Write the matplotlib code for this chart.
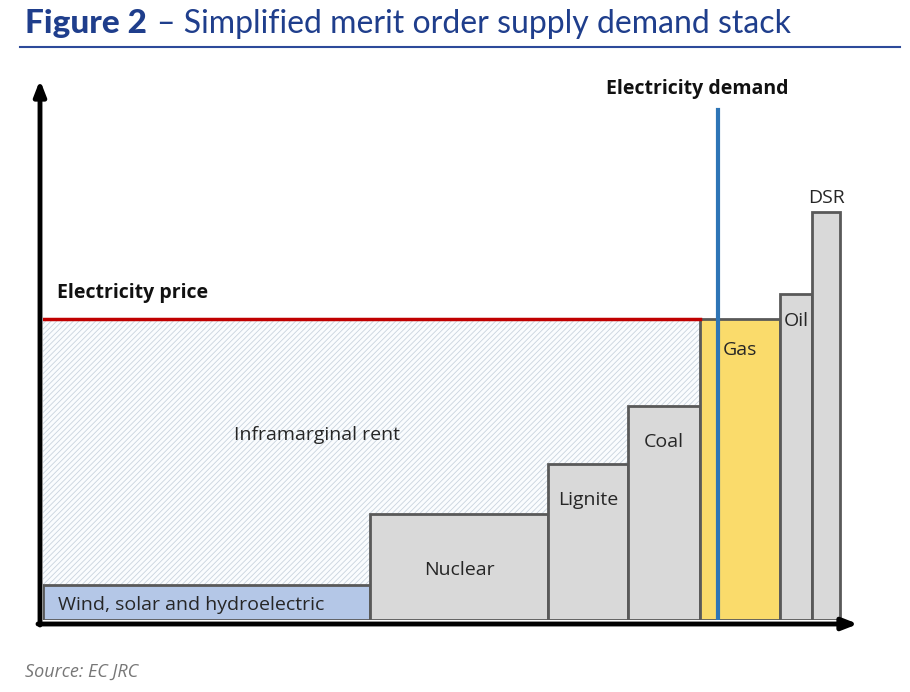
import numpy as np
import matplotlib.pyplot as plt
from matplotlib.patches import Rectangle

# merit order blocks (capacity width, marginal cost height) - schematic units
plants = ["Wind, solar and hydroelectric", "Nuclear", "Lignite", "Coal", "Gas", "Oil", "DSR"]
widths = [327, 178, 80, 72, 80, 32, 28]
heights = [35, 106, 156, 214, 301, 326, 408]
colors = ["#b4c7e7", "#d9d9d9", "#d9d9d9", "#d9d9d9", "#fadb6b", "#d9d9d9", "#d9d9d9"]
demand = 675
price = 301

plt.rcParams['font.family'] = ['Open Sans', 'DejaVu Sans']
plt.rcParams['hatch.linewidth'] = 0.6

fig = plt.figure(figsize=(9.1, 6.92), dpi=100)
ax = fig.add_axes([43 / 910, 72 / 692, 815 / 910, 540 / 692])
ax.set_xlim(0, 815)
ax.set_ylim(0, 540)
ax.axis('off')

lefts = np.concatenate([[0], np.cumsum(widths)[:-1]])

# inframarginal rent area (hatched, up to the price)
marginal = plants.index("Gas")
ax.add_patch(Rectangle((0, 0), lefts[marginal], price, facecolor='#fafcfe',
                       edgecolor='#c9d3de', hatch='//////', lw=0, zorder=1))

# supply stack
for l, w, h, c in zip(lefts, widths, heights, colors):
    ax.add_patch(Rectangle((l, 0), w, h, facecolor=c, edgecolor='#595959', lw=2, zorder=2))

# price and demand lines
ax.plot([0, lefts[marginal]], [price, price], color='#c00000', lw=2.5, zorder=3)
ax.plot([demand, demand], [-4, 510], color='#2e75b6', lw=3, zorder=4)

# labels
fs = 14
tc = '#262626'
ax.text(15, heights[0] / 2 - 3, plants[0], fontsize=fs, va='center', color=tc, zorder=5)
ax.text(lefts[1] + widths[1] / 2, 50, "Nuclear", fontsize=fs, ha='center', va='center', color=tc, zorder=5)
ax.text(lefts[2] + widths[2] / 2, 120, "Lignite", fontsize=fs, ha='center', va='center', color=tc, zorder=5)
ax.text(lefts[3] + widths[3] / 2, 178, "Coal", fontsize=fs, ha='center', va='center', color=tc, zorder=5)
ax.text(lefts[4] + widths[4] / 2, 270, "Gas", fontsize=fs, ha='center', va='center', color=tc, zorder=5)
ax.text(lefts[5] + widths[5] / 2, 299, "Oil", fontsize=fs, ha='center', va='center', color=tc, zorder=5)
ax.text(lefts[6] + widths[6] / 2, 422, "DSR", fontsize=fs, ha='center', va='center', color=tc, zorder=5)
ax.text(274, 185, "Inframarginal rent", fontsize=fs, ha='center', va='center', color=tc, zorder=5)
ax.text(14, 327, "Electricity price", fontsize=fs, fontweight='bold', va='center', color='#111111', zorder=5)
ax.text(654, 531, "Electricity demand", fontsize=fs, fontweight='bold', ha='center', va='center', color='#111111', zorder=5)

# axes arrows
arrow = dict(arrowstyle='-|>,head_length=0.9,head_width=0.35', lw=3.5, color='black', shrinkA=0, shrinkB=0)
ax.annotate('', xy=(-3, 540), xytext=(-3, -5), arrowprops=arrow, annotation_clip=False)
ax.annotate('', xy=(815, -4), xytext=(-5, -4), arrowprops=arrow, annotation_clip=False)

# title block
title_c = '#1f3e8c'
t1 = fig.text(25 / 910, 1 - 33 / 692, "Figure 2", fontsize=24, fontweight='black', color=title_c,
              va='baseline', family=['Lato', 'DejaVu Sans'])
fig.canvas.draw()
bb = t1.get_window_extent()
fig.text((bb.x1 + 10) / 910, 1 - 33 / 692, "\u2013 Simplified merit order supply demand stack", fontsize=23,
         color=title_c, va='baseline', family=['Lato', 'DejaVu Sans'])
fig.add_artist(plt.Line2D([20 / 910, 900 / 910], [1 - 47 / 692, 1 - 47 / 692], color='#2d4a9a', lw=1.5))
fig.text(25 / 910, 1 - 677 / 692, "Source: EC JRC", fontsize=13, style='italic', color='#777777', va='baseline')

fig.savefig("out.png", dpi=100)
